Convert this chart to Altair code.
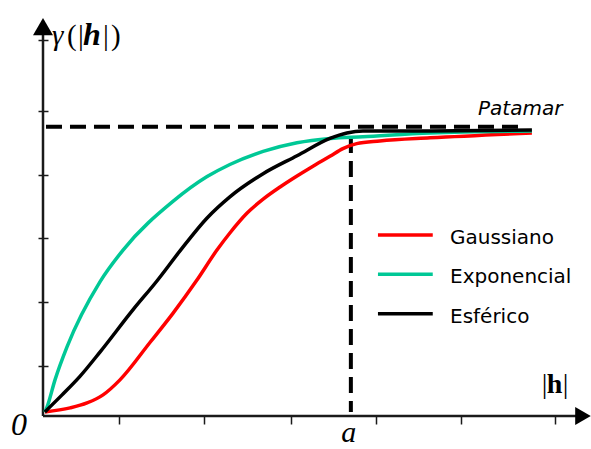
import altair as alt
import pandas as pd

# Theoretical semivariogram models.
# Lag h is given as a fraction of the range a, gamma as a fraction of the sill.
h_gaussiano = [0.006, 0.088, 0.143, 0.195, 0.250, 0.348, 0.422, 0.500, 0.565, 0.607,
               0.663, 0.715, 0.770, 0.825, 0.877, 0.932, 0.974, 1.019, 1.094, 1.257, 1.588]
g_gaussiano = [0.014, 0.028, 0.045, 0.073, 0.125, 0.255, 0.355, 0.470, 0.574, 0.633,
               0.702, 0.750, 0.792, 0.830, 0.864, 0.898, 0.925, 0.942, 0.951, 0.962, 0.979]

h_exponencial = [0.006, 0.013, 0.039, 0.078, 0.185, 0.260, 0.422, 0.533, 0.607, 0.715,
                 0.825, 0.932, 1.039, 1.257, 1.588]
g_exponencial = [0.014, 0.031, 0.125, 0.239, 0.464, 0.574, 0.742, 0.828, 0.870, 0.915,
                 0.945, 0.960, 0.966, 0.979, 0.986]

h_esferico = [0.006, 0.062, 0.120, 0.185, 0.292, 0.370, 0.445, 0.533, 0.607, 0.715,
              0.825, 0.932, 0.987, 1.039, 1.257, 1.588]
g_esferico = [0.014, 0.073, 0.137, 0.221, 0.367, 0.467, 0.571, 0.685, 0.758, 0.838,
              0.900, 0.960, 0.979, 0.986, 0.986, 0.989]

modelos = ["Gaussiano", "Exponencial", "Esférico"]
cores = ["#ff0000", "#00c896", "#000000"]

patamar = 1.0          # sill
alcance = 1.0          # range a
x_ticks = [0.247, 0.523, 0.805, 1.081, 1.358, 1.663]
y_ticks = [0.173, 0.394, 0.616, 0.834, 1.055, 1.301]

series = {
    "Gaussiano": (h_gaussiano, g_gaussiano),
    "Exponencial": (h_exponencial, g_exponencial),
    "Esférico": (h_esferico, g_esferico),
}

AXIS_COLOR = "#1a1a1a"
xs = alt.Scale(domain=[0, 1.78], nice=False, zero=False)
ys = alt.Scale(domain=[0, 1.38], nice=False, zero=False)
x_axis = alt.Axis(values=x_ticks, labels=False, domain=False, grid=False, ticks=True,
                  tickSize=8, tickWidth=1.5, tickColor=AXIS_COLOR, title=None)
y_axis = alt.Axis(values=y_ticks, labels=False, domain=False, grid=False, ticks=True,
                  tickSize=10, tickWidth=1.5, tickColor=AXIS_COLOR, offset=-5, title=None)
X = alt.X("x:Q", scale=xs, axis=x_axis)
Y = alt.Y("y:Q", scale=ys, axis=y_axis)
X2 = alt.X2("x2:Q")
Y2 = alt.Y2("y2:Q")


def label(text, x, y, size, font="Liberation Serif", style="normal", weight="normal",
          align="left", baseline="alphabetic", dx=0, dy=0):
    df = pd.DataFrame({"x": [x], "y": [y], "t": [text]})
    return alt.Chart(df).mark_text(
        font=font, fontSize=size, fontStyle=style, fontWeight=weight,
        align=align, baseline=baseline, dx=dx, dy=dy, color="black"
    ).encode(x=X, y=Y, text="t:N")


layers = []

# axis lines with arrow heads
eixos = pd.DataFrame({"x": [0, 0], "y": [0, 0], "x2": [1.74, 0], "y2": [0, 1.33]})
layers.append(alt.Chart(eixos).mark_rule(color=AXIS_COLOR, strokeWidth=2.5).encode(
    x=X, y=Y, x2=X2, y2=Y2))
layers.append(alt.Chart(pd.DataFrame({"x": [0], "y": [1.347]})).mark_point(
    shape="triangle-up", size=400, filled=True, opacity=1, color="#000", strokeWidth=0
).encode(x=X, y=Y))
layers.append(alt.Chart(pd.DataFrame({"x": [1.754], "y": [0]})).mark_point(
    shape="triangle-right", size=324, filled=True, opacity=1, color="#000", strokeWidth=0
).encode(x=X, y=Y))

# sill and range guides
guia_h = pd.DataFrame({"x": [0.0097], "x2": [1.549], "y": [patamar]})
layers.append(alt.Chart(guia_h).mark_rule(color="black", strokeWidth=4, strokeDash=[16, 8]).encode(
    x=X, x2=X2, y=Y))
guia_v = pd.DataFrame({"x": [alcance], "y": [0.965], "y2": [0.014]})
layers.append(alt.Chart(guia_v).mark_rule(color="black", strokeWidth=4, strokeDash=[16, 8]).encode(
    x=X, y=Y, y2=Y2))

# model curves
for nome, cor in zip(modelos, cores):
    h, g = series[nome]
    df = pd.DataFrame({"x": h, "y": g})
    layers.append(alt.Chart(df).mark_line(color=cor, strokeWidth=3.5, interpolate="monotone").encode(
        x=X, y=Y))

# legend
leg_x0, leg_x1, leg_top, leg_step = 1.088, 1.266, 0.626, 0.136
for i, (nome, cor) in enumerate(zip(modelos, cores)):
    yy = leg_top - i * leg_step
    layers.append(alt.Chart(pd.DataFrame({"x": [leg_x0], "x2": [leg_x1], "y": [yy]})).mark_rule(
        color=cor, strokeWidth=3.5).encode(x=X, x2=X2, y=Y))
    layers.append(label(nome, 1.322, yy, 20, font="DejaVu Sans", dy=9))

# annotations
layers.append(label("Patamar", 1.413, 1.041, 20, font="DejaVu Sans", style="oblique"))

# y-axis title: gamma(|h|)
gx, gy = 0.029, 1.283
for txt, st, wt, sz, dx in [("γ", "italic", "normal", 29, 0), ("(", "normal", "normal", 29, 15),
                            ("|", "normal", "normal", 29, 26), ("h", "italic", "bold", 32, 31),
                            ("|", "normal", "normal", 29, 51), (")", "normal", "normal", 29, 59)]:
    layers.append(label(txt, gx, gy, sz, style=st, weight=wt, dx=dx))

# x-axis title: |h|
hx, hy = 1.620, 0.080
for txt, wt, dx in [("|", "normal", 0), ("h", "bold", 5), ("|", "normal", 21)]:
    layers.append(label(txt, hx, hy, 28, weight=wt, dx=dx))

layers.append(label("0", -0.078, -0.066, 32, style="italic", align="center"))
layers.append(label("a", alcance, -0.090, 30, style="italic", align="center", dx=-2))

chart = alt.layer(*layers).properties(
    width=548,
    height=399,
    autosize=alt.AutoSizeParams(type="none"),
    padding={"left": 43, "top": 17, "right": 0, "bottom": 33},
    background="white",
).configure_view(stroke=None)

chart.save("out.html", embed_options={"renderer": "svg", "actions": False})
